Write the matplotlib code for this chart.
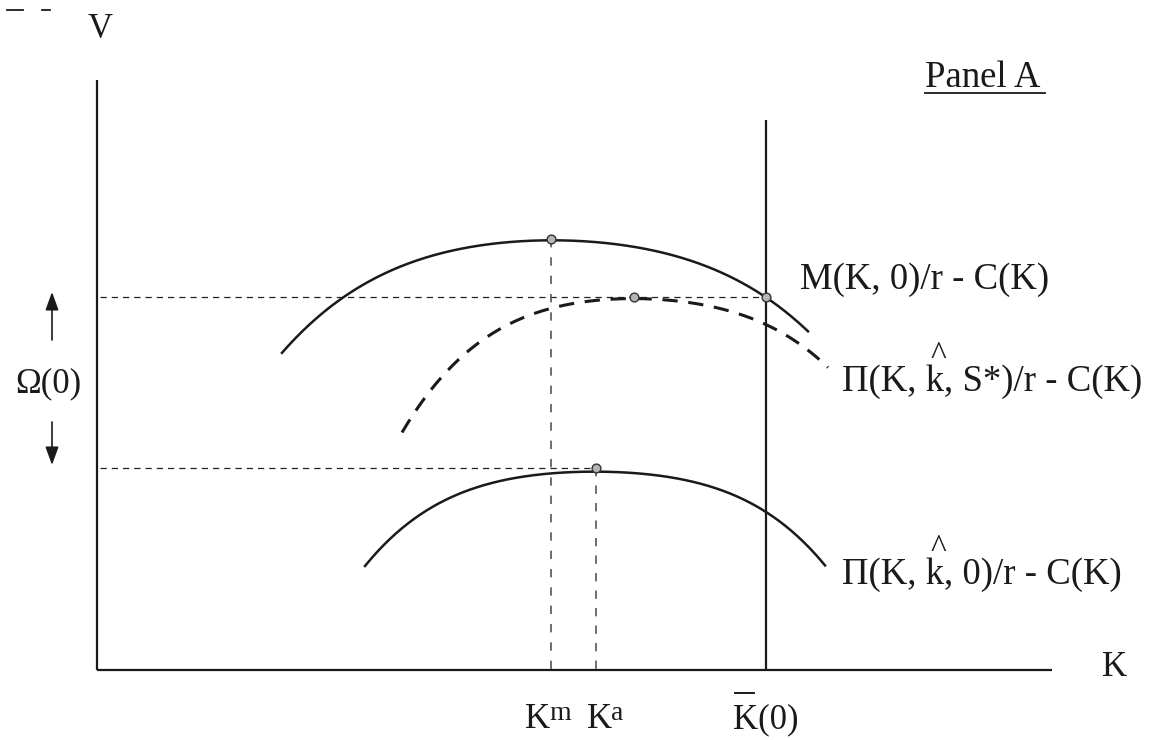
import numpy as np
import matplotlib
matplotlib.use("Agg")
import matplotlib.pyplot as plt

# ---- data (schematic units: K along x, V along y; origin at axes corner) ----
m_curve_k = [185, 242, 306, 373, 454, 563, 630, 669, 711]
m_curve_v = [316, 373, 402, 422, 431, 419, 393, 373, 339]

s_curve_k = [305, 320, 346, 386, 433, 454, 493, 537, 630, 669, 731]
s_curve_v = [235, 263, 297, 330, 352, 361, 370, 373, 360, 344, 303]

z_curve_k = [268, 303, 353, 420, 499, 586, 669, 728]
z_curve_v = [104, 140, 173, 190, 202, 187, 160, 104]

K_m, K_a, K_bar = 454, 499, 669
V_top, V_s, V_low = 431, 373, 202
points_k = [K_m, 537, K_bar, K_a]
points_v = [V_top, V_s, V_s, V_low]

x_max, y_max = 955, 590

FS = 25
FS_L = 26.5
FONT = "Liberation Serif"

fig = plt.figure(figsize=(11.55, 7.4), dpi=100)
ax = fig.add_axes([0, 0, 1, 1])
ax.set_xlim(-97, 1058)
ax.set_ylim(-70, 670)
ax.axis("off")

def smooth(xs, ys, deg=4, n=300):
    c = np.polyfit(xs, ys, deg)
    xx = np.linspace(min(xs), max(xs), n)
    return xx, np.polyval(c, xx)

# axes
ax.plot([0, 0], [0, y_max], color="#1a1a1a", lw=1.6, solid_capstyle="butt")
ax.plot([0, x_max], [0, 0], color="#1a1a1a", lw=1.6, solid_capstyle="butt")
# K bar vertical
ax.plot([K_bar, K_bar], [0, 550], color="#1a1a1a", lw=1.6, solid_capstyle="butt")

# guide lines
ax.plot([3, K_bar], [V_s, V_s], color="#222222", lw=0.9, dashes=(5, 4))
ax.plot([3, K_a], [V_low, V_low], color="#222222", lw=0.9, dashes=(5, 4))
ax.plot([K_m, K_m], [V_top, -7], color="#555555", lw=1.2, dashes=(5, 6))
ax.plot([K_a, K_a], [V_low, 0], color="#555555", lw=1.2, dashes=(5, 5.5))

# curves
x, y = smooth(m_curve_k, m_curve_v)
ax.plot(x, y, color="#1a1a1a", lw=1.8)
x, y = smooth(s_curve_k, s_curve_v)
ax.plot(x, y, color="#1a1a1a", lw=2.2, dashes=(5, 3.5))
x, y = smooth(z_curve_k, z_curve_v)
ax.plot(x, y, color="#1a1a1a", lw=1.8)

ax.scatter(points_k, points_v, s=40, facecolor="#b5b5b5", edgecolor="#333333",
           linewidth=1.0, zorder=5)

# labels
def txt(x, y, s, size=FS, ha="left", va="center", **kw):
    ax.text(x, y, s, fontsize=size, family=FONT, ha=ha, va=va, color="#1a1a1a", **kw)

txt(3, 641, "V", ha="center")
txt(1005, 2, "K", ha="left")
txt(828, 583, "Panel A", size=FS_L, ha="left", va="baseline")
ax.plot([828, 948], [577, 577], color="#1a1a1a", lw=1.3)

txt(703, 390, "M(K, 0)/r - C(K)", size=FS_L)
txt(745, 288, "\u03a0(K, k, S*)/r - C(K)", size=FS_L)
txt(841, 314, "^", size=24, ha="center")
txt(745, 95, "\u03a0(K, k, 0)/r - C(K)", size=FS_L)
txt(841, 121, "^", size=24, ha="center")

txt(-49, 286, "\u03a9(0)", ha="center")
arrow = dict(arrowstyle="-|>,head_length=1.1,head_width=0.4",
             color="#1a1a1a", lw=1.2, shrinkA=0, shrinkB=0)
ax.annotate("", xy=(-45, 378), xytext=(-45, 330), arrowprops=arrow)
ax.annotate("", xy=(-45, 205), xytext=(-45, 248), arrowprops=arrow)

# labels under the axis
txt(428, -58, "K", va="baseline")
txt(452, -50, "m", size=20, va="baseline")
txt(490, -58, "K", va="baseline")
txt(514, -50, "a", size=20, va="baseline")
txt(636, -58, "K(0)", va="baseline")
ax.plot([K_bar - 31, K_bar - 12], [-23, -23], color="#1a1a1a", lw=1.4)

# stray marks at top-left of the scan
ax.plot([-90, -74], [660, 660], color="#1a1a1a", lw=1.3)
ax.plot([-55, -47], [660, 660], color="#1a1a1a", lw=1.3)

fig.savefig("out.png", dpi=100)
